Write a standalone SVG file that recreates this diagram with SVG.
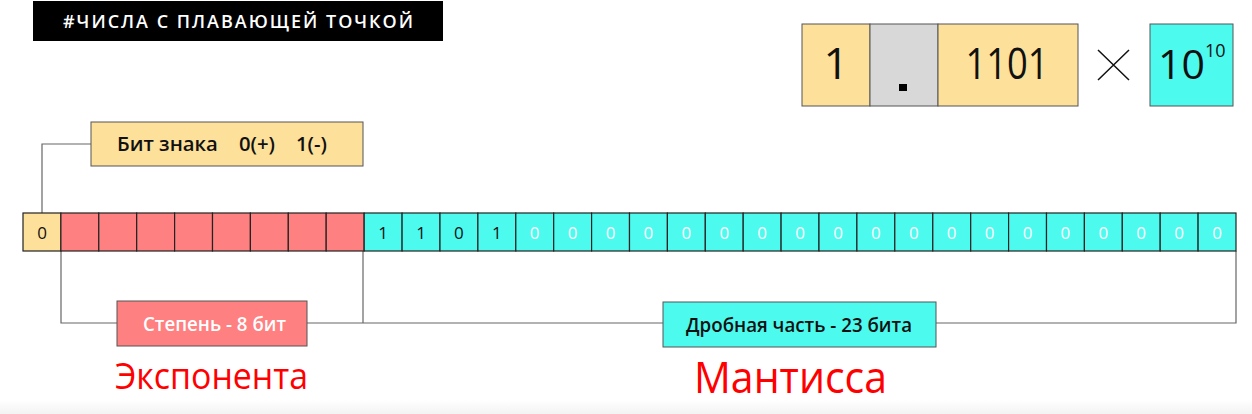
<svg xmlns="http://www.w3.org/2000/svg" width="1252" height="414" viewBox="0 0 1252 414">
<defs>
<linearGradient id="bot" x1="0" y1="0" x2="0" y2="1">
<stop offset="0" stop-color="#ffffff"/>
<stop offset="1" stop-color="#f3f3f3"/>
</linearGradient>
</defs>
<style>
.cell{stroke:#222;stroke-width:1.2}
.sg{fill:#fde09a}
.ex{fill:#ff8080}
.mt{fill:#4cfaee}
.gr{fill:#d9d8d9}
.box{stroke:#555;stroke-width:1}
.bt{font-family:"Open Sans","Liberation Sans",sans-serif;font-size:17px;text-anchor:middle}
.lbl{font-family:"Open Sans","Liberation Sans",sans-serif;font-size:19px;font-weight:600}
.big{font-family:"Open Sans","Liberation Sans",sans-serif;font-size:44px;text-anchor:middle;fill:#111}
.red{font-family:"Open Sans","Liberation Sans",sans-serif;fill:#ff0000}
.con{fill:none;stroke:#666;stroke-width:1.2}
</style>
<rect x="0" y="0" width="1252" height="414" fill="#ffffff"/>
<rect x="0" y="400" width="1252" height="14" fill="url(#bot)"/>

<g id="title">
<rect x="33" y="1" width="410" height="40" fill="#000"/>
<text x="63" y="28" fill="#fff" font-family="Open Sans,Liberation Sans,sans-serif" font-size="18" font-weight="600" textLength="350" lengthAdjust="spacing">#ЧИСЛА С ПЛАВАЮЩЕЙ ТОЧКОЙ</text>
</g>

<g id="formula">
<rect class="sg box" x="802" y="24" width="68" height="82"/>
<rect class="gr box" x="870" y="24" width="68" height="82"/>
<rect class="sg box" x="938" y="24" width="140" height="82"/>
<text class="big" x="836" y="79">1</text>
<rect x="899" y="84" width="8" height="7" fill="#000"/>
<text class="big" x="1007" y="79" textLength="83" lengthAdjust="spacingAndGlyphs">1101</text>
<path d="M1098 50 L1129 80 M1129 50 L1098 80" stroke="#111" stroke-width="1.5" fill="none"/>
<rect class="mt box" x="1150" y="24" width="83" height="82"/>
<text x="1158" y="79" font-family="Open Sans,Liberation Sans,sans-serif" font-size="41" fill="#111">10<tspan dy="-22" font-size="18">10</tspan></text>
</g>

<g id="connectors">
<polyline class="con" points="91,144 42,144 42,213"/>
<polyline class="con" points="61,251 61,323 117,323"/>
<polyline class="con" points="307,323 363,323 663,323"/>
<line class="con" x1="363" y1="251" x2="363" y2="323"/>
<polyline class="con" points="936,323 1236,323 1236,251"/>
</g>

<g id="sign-label">
<rect class="sg box" x="91" y="122" width="272" height="44"/>
<text class="lbl" x="117" y="151" fill="#111" textLength="210" lengthAdjust="spacingAndGlyphs" xml:space="preserve">Бит знака    0(+)    1(-)</text>
</g>

<g id="bits">
<rect class="cell sg" x="23" y="213" width="37.9" height="38"/>
<rect class="cell ex" x="60.9" y="213" width="37.9" height="38"/>
<rect class="cell ex" x="98.8" y="213" width="37.9" height="38"/>
<rect class="cell ex" x="136.7" y="213" width="37.9" height="38"/>
<rect class="cell ex" x="174.6" y="213" width="37.9" height="38"/>
<rect class="cell ex" x="212.5" y="213" width="37.9" height="38"/>
<rect class="cell ex" x="250.4" y="213" width="37.9" height="38"/>
<rect class="cell ex" x="288.3" y="213" width="37.9" height="38"/>
<rect class="cell ex" x="326.2" y="213" width="37.9" height="38"/>
<rect class="cell mt" x="364.2" y="213" width="37.9" height="38"/>
<rect class="cell mt" x="402.1" y="213" width="37.9" height="38"/>
<rect class="cell mt" x="440.0" y="213" width="37.9" height="38"/>
<rect class="cell mt" x="477.9" y="213" width="37.9" height="38"/>
<rect class="cell mt" x="515.8" y="213" width="37.9" height="38"/>
<rect class="cell mt" x="553.7" y="213" width="37.9" height="38"/>
<rect class="cell mt" x="591.6" y="213" width="37.9" height="38"/>
<rect class="cell mt" x="629.5" y="213" width="37.9" height="38"/>
<rect class="cell mt" x="667.4" y="213" width="37.9" height="38"/>
<rect class="cell mt" x="705.3" y="213" width="37.9" height="38"/>
<rect class="cell mt" x="743.2" y="213" width="37.9" height="38"/>
<rect class="cell mt" x="781.1" y="213" width="37.9" height="38"/>
<rect class="cell mt" x="819.0" y="213" width="37.9" height="38"/>
<rect class="cell mt" x="856.9" y="213" width="37.9" height="38"/>
<rect class="cell mt" x="894.8" y="213" width="37.9" height="38"/>
<rect class="cell mt" x="932.8" y="213" width="37.9" height="38"/>
<rect class="cell mt" x="970.7" y="213" width="37.9" height="38"/>
<rect class="cell mt" x="1008.6" y="213" width="37.9" height="38"/>
<rect class="cell mt" x="1046.5" y="213" width="37.9" height="38"/>
<rect class="cell mt" x="1084.4" y="213" width="37.9" height="38"/>
<rect class="cell mt" x="1122.3" y="213" width="37.9" height="38"/>
<rect class="cell mt" x="1160.2" y="213" width="37.9" height="38"/>
<rect class="cell mt" x="1198.1" y="213" width="37.9" height="38"/>
<g class="bt" fill="#111">
<text x="42" y="239">0</text>
<text x="383.1" y="239">1</text>
<text x="421.0" y="239">1</text>
<text x="458.9" y="239">0</text>
<text x="496.8" y="239">1</text>
</g>
<g class="bt" fill="#ffffff">
<text x="534.7" y="239">0</text>
<text x="572.6" y="239">0</text>
<text x="610.5" y="239">0</text>
<text x="648.4" y="239">0</text>
<text x="686.4" y="239">0</text>
<text x="724.3" y="239">0</text>
<text x="762.2" y="239">0</text>
<text x="800.1" y="239">0</text>
<text x="838.0" y="239">0</text>
<text x="875.9" y="239">0</text>
<text x="913.8" y="239">0</text>
<text x="951.7" y="239">0</text>
<text x="989.6" y="239">0</text>
<text x="1027.5" y="239">0</text>
<text x="1065.4" y="239">0</text>
<text x="1103.3" y="239">0</text>
<text x="1141.2" y="239">0</text>
<text x="1179.2" y="239">0</text>
<text x="1217.1" y="239">0</text>
</g>
</g>

<g id="exponent-label">
<rect class="ex box" x="117" y="301" width="190" height="45"/>
<text class="lbl" x="143" y="331" fill="#ffffff" textLength="143" lengthAdjust="spacingAndGlyphs">Степень - 8 бит</text>
<text class="red" x="115" y="389" font-size="36" textLength="193" lengthAdjust="spacingAndGlyphs">Экспонента</text>
</g>

<g id="mantissa-label">
<rect class="mt box" x="663" y="302" width="273" height="45"/>
<text class="lbl" x="686" y="332" fill="#111" textLength="226" lengthAdjust="spacingAndGlyphs">Дробная часть - 23 бита</text>
<text class="red" x="694" y="393" font-size="44" textLength="193" lengthAdjust="spacingAndGlyphs">Мантисса</text>
</g>
</svg>
